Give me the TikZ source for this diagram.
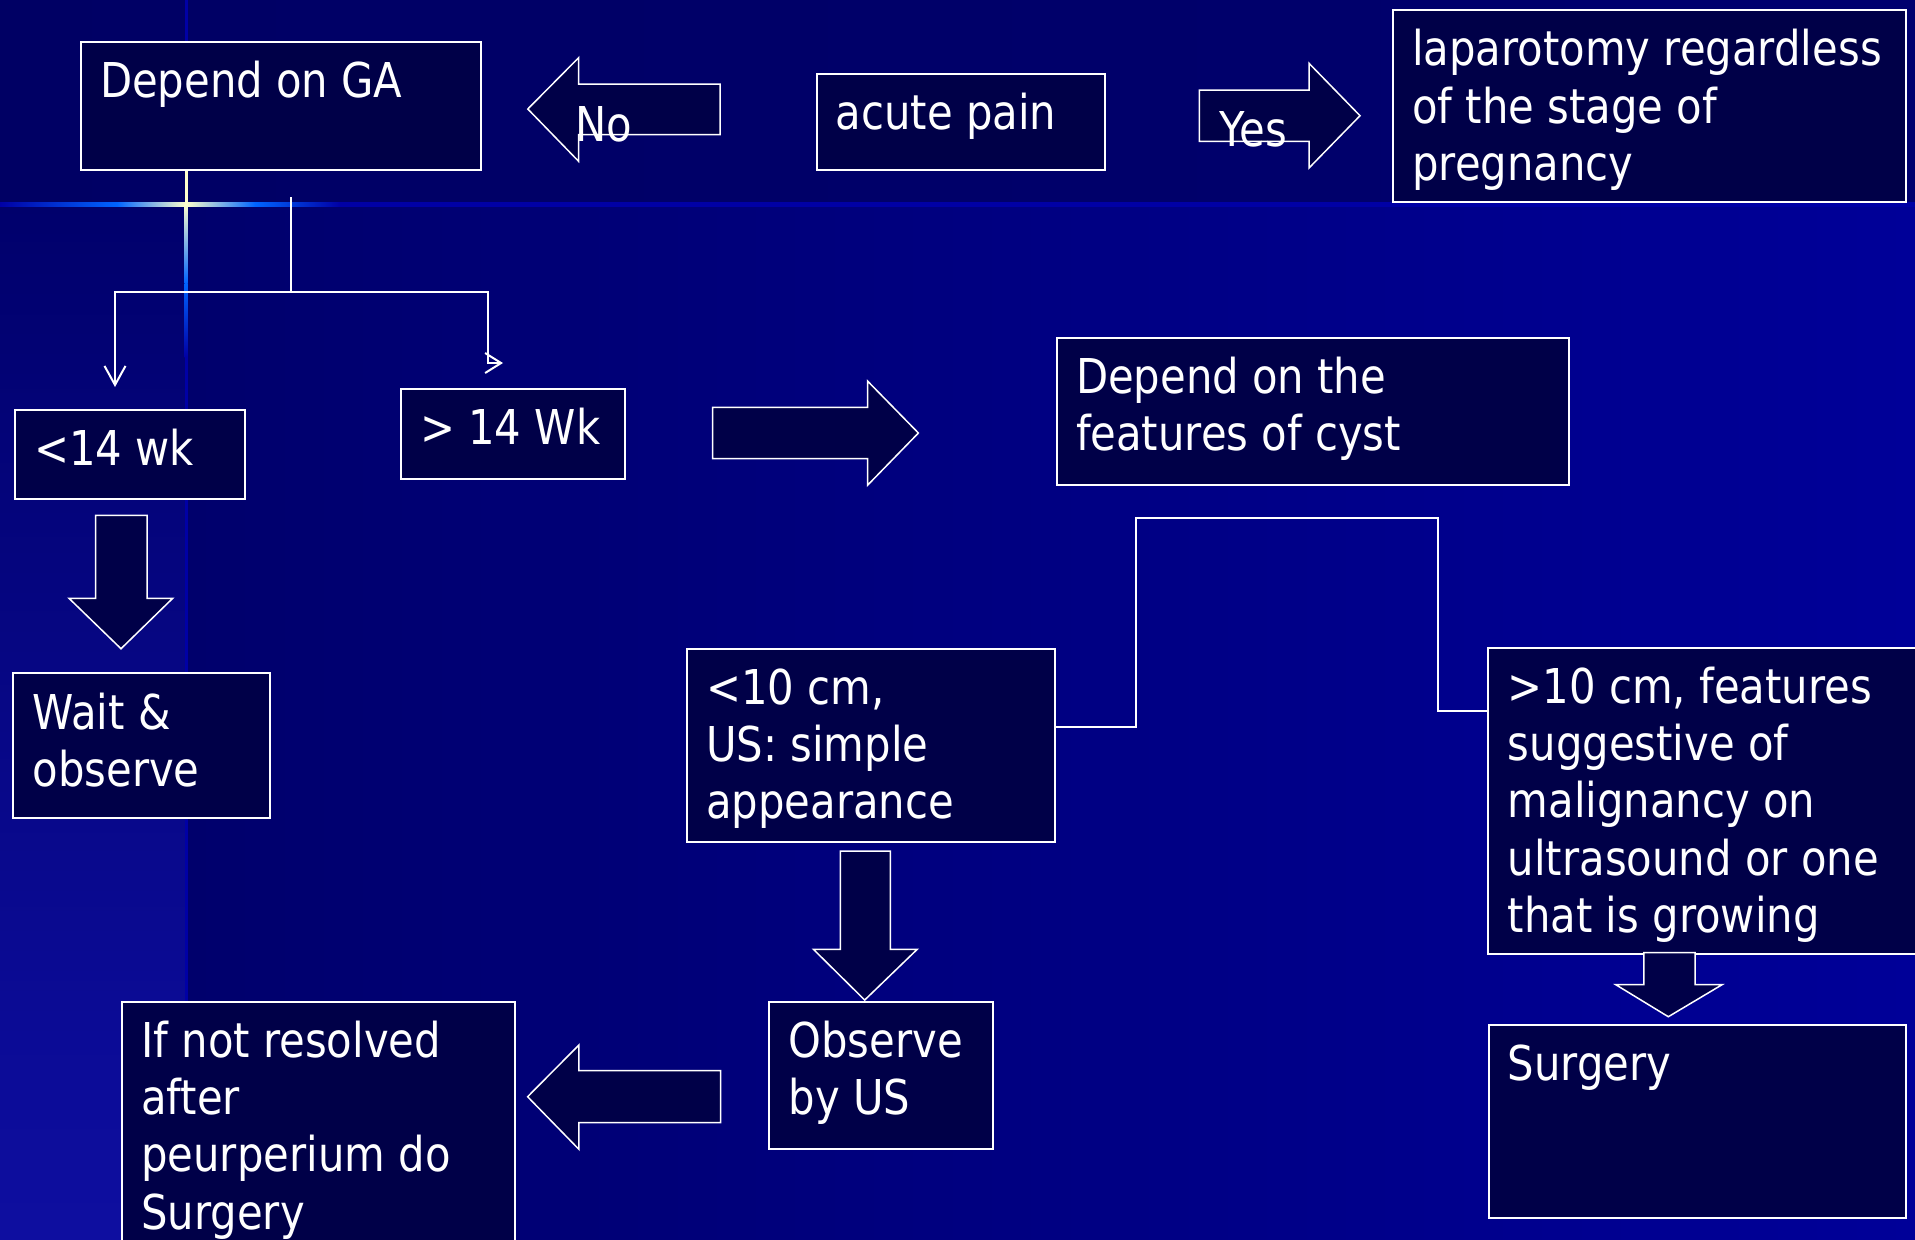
\documentclass[tikz,border=0pt]{standalone}
\usepackage{fontspec}
\newfontfamily\slidefont{DejaVu Sans}[FakeStretch=0.87]
\usetikzlibrary{arrows.meta}

\definecolor{topnavy}{RGB}{0,0,100}
\definecolor{deepnavy}{RGB}{0,0,108}
\definecolor{slideblue}{RGB}{0,0,152}
\definecolor{stripblue}{RGB}{14,14,160}
\definecolor{boxnavy}{RGB}{0,0,72}
\definecolor{glowblue}{RGB}{0,100,255}
\definecolor{glowcream}{RGB}{255,255,205}
\definecolor{ruleblue}{RGB}{0,0,165}

\tikzset{
  box/.style={draw=white, line width=1pt, fill=boxnavy, anchor=north west, inner sep=0pt},
  boxtext/.style={anchor=north west, inner sep=10pt, text=white, align=left,
    font=\slidefont\fontsize{24}{28.6}\selectfont},
  arrowtext/.style={anchor=base west, inner sep=0pt, text=white,
    font=\slidefont\fontsize{24}{28.6}\selectfont},
  blockarrow/.style={draw=white, line width=0.75pt, fill=boxnavy},
  conn/.style={draw=white, line width=1pt},
}

\begin{document}
\begin{tikzpicture}[x=0.5pt, y=-0.5pt]
\clip (0,0) rectangle (1915,1239);

% slide background
\shade[left color=topnavy, right color=topnavy!80!slideblue] (0,0) rectangle (1915,204);
\shade[left color=deepnavy, right color=slideblue] (186,204) rectangle (1915,1239);
\shade[top color=deepnavy, bottom color=stripblue] (0,204) rectangle (186,1239);

% glowing cross of the template
\fill[ruleblue] (0,202) rectangle (1915,206.5);
\fill[ruleblue] (184.5,0) rectangle (187.5,1239);
\shade[left color=ruleblue, right color=glowblue] (0,202) rectangle (117,206.5);
\shade[left color=glowblue, right color=glowcream] (117,202) rectangle (186,206.5);
\shade[left color=glowcream, right color=glowblue] (186,202) rectangle (255,206.5);
\shade[left color=glowblue, right color=ruleblue] (255,202) rectangle (340,206.5);
\fill[glowcream] (184.5,169) rectangle (187.5,204);
\shade[top color=glowcream, bottom color=glowblue] (184.5,204) rectangle (187.5,283);
\shade[top color=glowblue, bottom color=ruleblue] (184.5,283) rectangle (187.5,357);

% boxes
\node[box, minimum width=200.2pt, minimum height=64.15pt,
  label={[boxtext]north west:Depend on GA}] (ga) at (79.6,40.7) {};
\node[box, minimum width=144.4pt, minimum height=48.15pt,
  label={[boxtext]north west:acute pain}] (pain) at (815.5,72.7) {};
\node[box, minimum width=256.4pt, minimum height=96pt,
  label={[boxtext]north west:{laparotomy regardless\\of the stage of\\pregnancy}}] (lap) at (1391.8,9) {};
\node[box, minimum width=114.85pt, minimum height=44.65pt,
  label={[boxtext]north west:{<14 wk}}] (lt14) at (14,408.7) {};
\node[box, minimum width=112.1pt, minimum height=45pt,
  label={[boxtext]north west:{> 14 Wk}}] (gt14) at (399.8,388) {};
\node[box, minimum width=256.1pt, minimum height=73.65pt,
  label={[boxtext]north west:{Depend on the\\features of cyst}}] (feat) at (1055.6,336.7) {};
\node[box, minimum width=128.3pt, minimum height=72.2pt,
  label={[boxtext]north west:{Wait \&\\observe}}] (wait) at (12.2,672.3) {};
\node[box, minimum width=184.35pt, minimum height=96.2pt,
  label={[boxtext]north west:{<10 cm,\\US: simple\\appearance}}] (lt10) at (685.7,648.3) {};
\node[box, minimum width=221.3pt, minimum height=153pt,
  label={[boxtext]north west:{>10 cm, features\\suggestive of\\malignancy on\\ultrasound or one\\that is growing}}] (gt10) at (1487.4,646.7) {};
\node[box, minimum width=111.75pt, minimum height=73.5pt,
  label={[boxtext]north west:{Observe\\by US}}] (obs) at (768.2,1000.7) {};
\node[box, minimum width=196.65pt, minimum height=129.65pt,
  label={[boxtext]north west:{If not resolved\\after\\peurperium do\\Surgery}}] (ifnot) at (120.9,1000.7) {};
\node[box, minimum width=208.85pt, minimum height=96.2pt,
  label={[boxtext]north west:Surgery}] (surg) at (1487.5,1024.3) {};

% block arrows
\draw[blockarrow] (527.8,109) -- (578.6,57.7) -- (578.6,84) -- (720,84)
  -- (720,134.7) -- (578.6,134.7) -- (578.6,161.3) -- cycle;
\draw[blockarrow] (1199.4,90) -- (1309,90) -- (1309,63.3) -- (1360,115.7)
  -- (1309,168) -- (1309,141.3) -- (1199.4,141.3) -- cycle;
\draw[blockarrow] (712.7,407.3) -- (867.5,407.3) -- (867.5,381) -- (918.4,433)
  -- (867.5,485.3) -- (867.5,458.7) -- (712.7,458.7) -- cycle;
\draw[blockarrow] (95.5,515.3) -- (147,515.3) -- (147,598.3) -- (172.7,598.3)
  -- (121,648.7) -- (69,598.3) -- (95.5,598.3) -- cycle;
\draw[blockarrow] (840.3,851) -- (890.3,851) -- (890.3,949.3) -- (917.2,949.3)
  -- (864.7,1000) -- (813.4,949.3) -- (840.3,949.3) -- cycle;
\draw[blockarrow] (527.6,1096.7) -- (578.9,1045) -- (578.9,1070.7) -- (720.6,1070.7)
  -- (720.6,1122.7) -- (578.9,1122.7) -- (578.9,1149.3) -- cycle;
\draw[blockarrow] (1643.9,952.7) -- (1695.2,952.7) -- (1695.2,984.7) -- (1722,984.7)
  -- (1668.3,1016.7) -- (1615.8,984.7) -- (1643.9,984.7) -- cycle;

% answers written over the arrows
\node[arrowtext] (no) at (575,141) {No};
\node[arrowtext] (yes) at (1219,146.7) {Yes};

% split below GA
\coordinate (stem) at (291,197);
\coordinate (split) at (291,292.3);
\coordinate (ltend) at (115,387);
\coordinate (gtend) at (503,363);
\draw[conn] (stem) -- (split);
\draw[conn, -{Straight Barb[length=9.5pt, width=10.5pt]}] (split) -| (ltend);
\draw[conn, -{Straight Barb[length=8pt, width=10pt]}] (split) -| (488,363) -- (gtend);

% small and large cyst
\draw[conn] ([yshift=-39.2pt]lt10.north east) -| (1136,517.7) -| (1437.5,710.7)
  -- (gt10.west |- 1437.5,710.7);

\end{tikzpicture}
\end{document}
